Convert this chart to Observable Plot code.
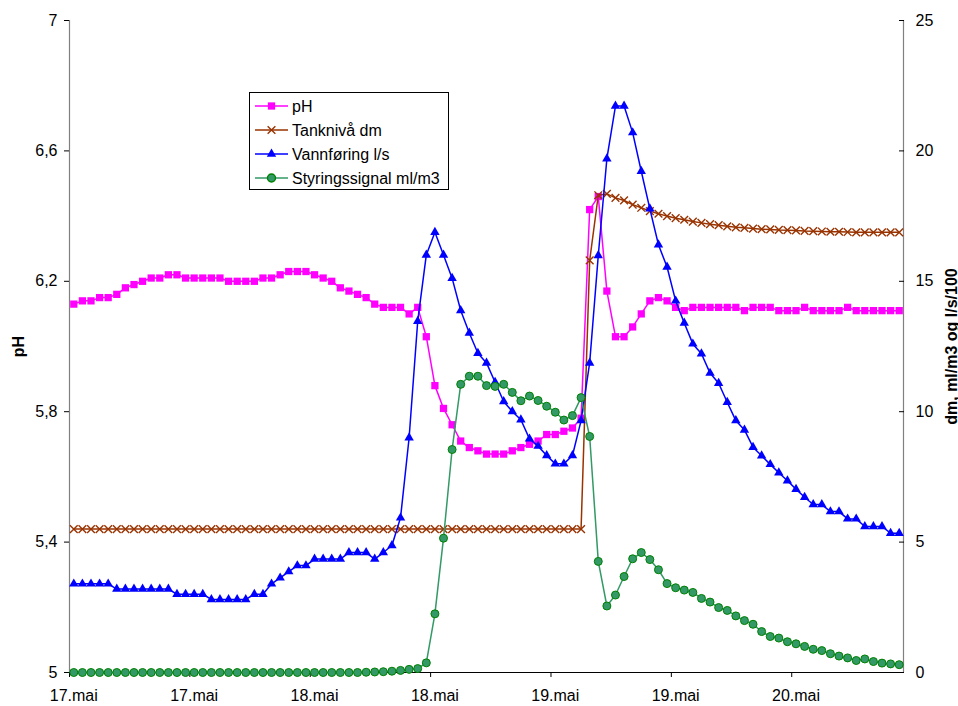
<!DOCTYPE html>
<html>
<head>
<meta charset="utf-8">
<script src="https://cdn.jsdelivr.net/npm/d3@7"></script>
<script src="https://cdn.jsdelivr.net/npm/@observablehq/plot@0.6"></script>
<style>
  body { margin: 0; background: #fff; }
  #chart { width: 958px; height: 706px; }
</style>
</head>
<body>
<div id="chart"></div>
<script>
// ---- data (one value per measurement, 97 measurements) ----
const xTickLabels = ["17.mai", "17.mai", "18.mai", "18.mai", "19.mai", "19.mai", "20.mai"];
const xTickCategories = [0, 14, 28, 42, 56, 70, 84];

const seriesNames = ["pH", "Tanknivå dm", "Vannføring l/s", "Styringssignal ml/m3"];

const ph = [
  6.13, 6.14, 6.14, 6.15, 6.15, 6.16, 6.18, 6.19, 6.20, 6.21,
  6.21, 6.22, 6.22, 6.21, 6.21, 6.21, 6.21, 6.21, 6.20, 6.20,
  6.20, 6.20, 6.21, 6.21, 6.22, 6.23, 6.23, 6.23, 6.22, 6.21,
  6.20, 6.18, 6.17, 6.16, 6.15, 6.13, 6.12, 6.12, 6.12, 6.10,
  6.12, 6.03, 5.88, 5.81, 5.76, 5.71, 5.69, 5.68, 5.67, 5.67,
  5.67, 5.68, 5.69, 5.70, 5.71, 5.73, 5.73, 5.74, 5.75, 5.78,
  6.42, 6.46, 6.17, 6.03, 6.03, 6.06, 6.10, 6.14, 6.15, 6.14,
  6.12, 6.11, 6.12, 6.12, 6.12, 6.12, 6.12, 6.12, 6.11, 6.12,
  6.12, 6.12, 6.11, 6.11, 6.11, 6.12, 6.11, 6.11, 6.11, 6.11,
  6.12, 6.11, 6.11, 6.11, 6.11, 6.11, 6.11
];

const tank = [
  5.5, 5.5, 5.5, 5.5, 5.5, 5.5, 5.5, 5.5, 5.5, 5.5,
  5.5, 5.5, 5.5, 5.5, 5.5, 5.5, 5.5, 5.5, 5.5, 5.5,
  5.5, 5.5, 5.5, 5.5, 5.5, 5.5, 5.5, 5.5, 5.5, 5.5,
  5.5, 5.5, 5.5, 5.5, 5.5, 5.5, 5.5, 5.5, 5.5, 5.5,
  5.5, 5.5, 5.5, 5.5, 5.5, 5.5, 5.5, 5.5, 5.5, 5.5,
  5.5, 5.5, 5.5, 5.5, 5.5, 5.5, 5.5, 5.5, 5.5, 5.5,
  15.8, 18.3, 18.35, 18.2, 18.1, 17.94, 17.82, 17.69, 17.59, 17.5,
  17.42, 17.36, 17.29, 17.24, 17.19, 17.15, 17.11, 17.07, 17.05, 17.02,
  17.0, 16.99, 16.97, 16.96, 16.95, 16.93, 16.92, 16.91, 16.9, 16.9,
  16.89, 16.88, 16.88, 16.88, 16.88, 16.88, 16.88
];

const vannforing = [
  3.4, 3.4, 3.4, 3.4, 3.4, 3.2, 3.2, 3.2, 3.2, 3.2,
  3.2, 3.2, 3.0, 3.0, 3.0, 3.0, 2.8, 2.8, 2.8, 2.8,
  2.8, 3.0, 3.0, 3.4, 3.63, 3.87, 4.1, 4.1, 4.35, 4.35,
  4.35, 4.35, 4.6, 4.6, 4.6, 4.35, 4.6, 4.87, 5.93, 9.0,
  13.47, 16.01, 16.88, 16.01, 15.12, 13.88, 13.02, 12.24, 11.87, 11.13,
  10.39, 10.01, 9.69, 8.96, 8.68, 8.32, 8.0, 8.0, 8.32, 9.66,
  11.87, 15.99, 19.7, 21.72, 21.72, 20.7, 19.22, 17.78, 16.4, 15.55,
  14.25, 13.4, 12.6, 12.22, 11.48, 11.09, 10.36, 9.66, 9.3, 8.64,
  8.31, 7.98, 7.66, 7.35, 7.03, 6.72, 6.44, 6.44, 6.17, 6.17,
  5.89, 5.89, 5.6, 5.6, 5.6, 5.34, 5.34
];

const styringssignal = [
  0, 0, 0, 0, 0, 0, 0, 0, 0, 0,
  0, 0, 0, 0, 0, 0, 0, 0, 0, 0,
  0, 0, 0, 0, 0, 0, 0, 0, 0, 0,
  0, 0, 0, 0, 0.01, 0.02, 0.03, 0.05, 0.08, 0.12,
  0.15, 0.37, 2.25, 5.15, 8.55, 11.05, 11.36, 11.36, 11.0, 10.97,
  11.05, 10.74, 10.42, 10.6, 10.43, 10.21, 9.98, 9.68, 9.85, 10.54,
  9.05, 4.26, 2.55, 2.97, 3.68, 4.36, 4.6, 4.33, 3.94, 3.41,
  3.25, 3.16, 3.07, 2.84, 2.7, 2.49, 2.38, 2.17, 1.99, 1.85,
  1.57, 1.38, 1.32, 1.18, 1.1, 1.0, 0.89, 0.84, 0.72, 0.63,
  0.56, 0.46, 0.52, 0.42, 0.36, 0.33, 0.3
];

const leftTicks = [5, 5.4, 5.8, 6.2, 6.6, 7];
const rightTicks = [0, 5, 10, 15, 20, 25];

// ---- build ----
const colors = {ph: "#FF00FF", tank: "#993300", vann: "#0000FF", styr: "#339966", styrStroke: "#008000"};
const font = "'Liberation Sans', Arial, sans-serif";
const leftDomain = [5, 7];
const rightDomain = [0, 25];
// secondary (right) axis values mapped onto the primary scale
const toLeft = v => leftDomain[0] + (v - rightDomain[0]) * (leftDomain[1] - leftDomain[0]) / (rightDomain[1] - rightDomain[0]);
const toRight = p => rightDomain[0] + (p - leftDomain[0]) * (rightDomain[1] - rightDomain[0]) / (leftDomain[1] - leftDomain[0]);

const rows = ph.map((p, i) => ({
  i,
  ph: p,
  tank: toLeft(tank[i]),
  vann: toLeft(vannforing[i]),
  styr: toLeft(styringssignal[i])
}));
const n = rows.length;

const chart = Plot.plot({
  width: 958,
  height: 706,
  marginLeft: 69,
  marginRight: 55,
  marginTop: 20,
  marginBottom: 34,
  style: {fontFamily: font, fontSize: "16px", background: "white", color: "black", overflow: "visible"},
  x: {domain: [-0.5, n - 0.5], axis: null},
  y: {domain: leftDomain, axis: null},
  marks: [
    // axis lines
    Plot.ruleX([-0.5], {stroke: "#808080", strokeWidth: 1.2}),
    Plot.ruleX([n - 0.5], {stroke: "#808080", strokeWidth: 1.2}),
    Plot.ruleY([leftDomain[0]], {stroke: "black", strokeWidth: 1.2}),
    // left axis
    Plot.axisY({
      anchor: "left", ticks: leftTicks, tickSize: 5, tickPadding: 7,
      tickFormat: d => String(d).replace(".", ","), label: null
    }),
    // right axis (ticks inside)
    Plot.axisY({
      anchor: "right", ticks: rightTicks.map(toLeft), tickSize: -5, tickPadding: 17,
      tickFormat: d => String(Math.round(toRight(d))), label: null
    }),
    // x axis: tick marks between categories, labels centred on categories
    Plot.axisX({
      anchor: "bottom", ticks: xTickCategories.map(c => c - 0.5), tickSize: 5,
      tickFormat: () => "", label: null
    }),
    Plot.axisX({
      anchor: "bottom", ticks: xTickCategories, tickSize: 0, tickPadding: 17,
      tickFormat: d => xTickLabels[xTickCategories.indexOf(d)], label: null
    }),
    // axis titles
    Plot.text(["pH"], {frameAnchor: "left", dx: -51, rotate: -90, textAnchor: "middle", lineAnchor: "middle", fontWeight: "bold", fontSize: 16}),
    Plot.text(["dm, ml/m3 og l/s/100"], {frameAnchor: "right", dx: 48, rotate: -90, textAnchor: "middle", lineAnchor: "middle", fontWeight: "bold", fontSize: 16}),

    // pH
    Plot.line(rows, {x: "i", y: "ph", stroke: colors.ph, strokeWidth: 1.5}),
    Plot.dot(rows, {x: "i", y: "ph", symbol: "square", r: 4.1, fill: colors.ph, stroke: "none"}),
    // Tanknivå
    Plot.line(rows, {x: "i", y: "tank", stroke: colors.tank, strokeWidth: 1.5}),
    Plot.dot(rows, {x: "i", y: "tank", symbol: "times", r: 3.6, stroke: colors.tank, strokeWidth: 1.4, fill: "none"}),
    // Vannføring
    Plot.line(rows, {x: "i", y: "vann", stroke: colors.vann, strokeWidth: 1.5}),
    Plot.dot(rows, {x: "i", y: "vann", symbol: "triangle", r: 3.5, fill: colors.vann, stroke: "none"}),
    // Styringssignal
    Plot.line(rows, {x: "i", y: "styr", stroke: colors.styr, strokeWidth: 1.5}),
    Plot.dot(rows, {x: "i", y: "styr", symbol: "circle", r: 4, fill: colors.styr, stroke: colors.styrStroke, strokeWidth: 1})
  ]
});

// ---- legend (inside the plot area) ----
const svg = d3.select(chart);
const lg = svg.append("g")
  .attr("font-family", font).attr("font-size", 16).attr("text-anchor", "start");
lg.append("rect")
  .attr("x", 249.5).attr("y", 92.5).attr("width", 199).attr("height", 97)
  .attr("fill", "white").attr("stroke", "black").attr("stroke-width", 1);
const legendSpec = [
  {stroke: colors.ph, sym: d3.symbolSquare, r: 4.1, fill: colors.ph, mstroke: "none"},
  {stroke: colors.tank, sym: d3.symbolTimes, r: 3.6, fill: "none", mstroke: colors.tank},
  {stroke: colors.vann, sym: d3.symbolTriangle, r: 3.5, fill: colors.vann, mstroke: "none"},
  {stroke: colors.styr, sym: d3.symbolCircle, r: 4, fill: colors.styr, mstroke: colors.styrStroke}
];
seriesNames.forEach((name, k) => {
  const s = legendSpec[k];
  const y = 106 + 24 * k;
  lg.append("line").attr("x1", 255).attr("x2", 288).attr("y1", y).attr("y2", y)
    .attr("stroke", s.stroke).attr("stroke-width", 1.5);
  lg.append("path").attr("transform", `translate(271.5,${y})`)
    .attr("d", d3.symbol(s.sym, Math.PI * s.r * s.r)())
    .attr("fill", s.fill).attr("stroke", s.mstroke).attr("stroke-width", 1.4);
  lg.append("text").attr("x", 292).attr("y", y).attr("dy", "0.36em")
    .attr("text-anchor", "start").attr("fill", "black").text(name);
});

document.getElementById("chart").appendChild(chart);
</script>
</body>
</html>
